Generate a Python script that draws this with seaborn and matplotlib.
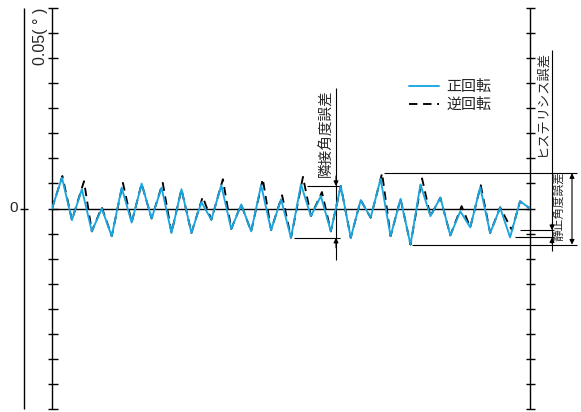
import numpy as np
import pandas as pd
import matplotlib
matplotlib.use("Agg")
import matplotlib.pyplot as plt
import seaborn as sns

# ---------------- data (degrees) ----------------
angle_fwd = [0, 7.5, 15, 22.5, 30, 37.5, 45, 52.5, 60, 67.5, 75, 82.5, 90, 97.5,
             105, 112.5, 120, 127.5, 135, 142.5, 150, 157.5, 165, 172.5, 180,
             187.5, 195, 202.5, 210, 217.5, 225, 232.5, 240, 247.5, 255, 262.5,
             270, 277.5, 285, 292.5, 300, 307.5, 315, 322.5, 330, 337.5, 345,
             352.5, 360]
err_fwd = [0.0, 0.0077, -0.0029, 0.0048, -0.0057, 0.0, -0.0069, 0.0052, -0.0035,
           0.0062, -0.0025, 0.0052, -0.0061, 0.0048, -0.0061, 0.0016, -0.0028,
           0.0058, -0.0051, 0.0010, -0.0057, 0.0058, -0.0054, 0.0023, -0.0073,
           0.0060, -0.0019, 0.0031, -0.0057, 0.0056, -0.0073, 0.0021, -0.0023,
           0.0074, -0.0069, 0.0024, -0.0090, 0.0060, -0.0019, 0.0027, -0.0067,
           -0.0007, -0.0047, 0.0053, -0.0061, 0.0002, -0.0072, 0.0018, 0.0]
angle_rev = [0, 7.8, 15, 24.1, 30, 37.5, 45, 53.4, 60, 67.5, 75, 83.4, 90, 97.5,
             105, 113.5, 120, 128.7, 135, 142.5, 150, 158.75, 165, 173.3, 180,
             189.0, 195, 203.3, 210, 217.5, 225, 232.5, 240, 248.6, 255, 262.5,
             270, 278.7, 285, 292.5, 300, 308.5, 315, 322.9, 330, 337.5, 346.4,
             352.5, 360]
err_rev = [0.0, 0.0081, -0.0029, 0.0068, -0.0057, 0.0003, -0.0069, 0.0064, -0.0035,
           0.0062, -0.0025, 0.0064, -0.0061, 0.0048, -0.0061, 0.0029, -0.0028,
           0.0073, -0.0051, 0.0010, -0.0057, 0.0074, -0.0054, 0.0033, -0.0073,
           0.0079, -0.0019, 0.0041, -0.0057, 0.0056, -0.0073, 0.0021, -0.0023,
           0.0088, -0.0069, 0.0024, -0.0090, 0.0075, -0.0019, 0.0027, -0.0067,
           0.0006, -0.0047, 0.0058, -0.0061, 0.0003, -0.0054, 0.0018, 0.0]
series_labels = ["正回転", "逆回転"]
y_label_top = "0.05( ° )"
y_label_zero = "0"
ann_adjacent = "隣接角度誤差"
ann_hyst = "ヒステリシス誤差"
ann_static = "静止角度誤差"
y_lim = 0.05
y_step = 0.00625

# ---------------- style ----------------
sns.set_style("white")
plt.rcParams['font.family'] = ['Liberation Sans', 'Noto Sans CJK JP']
BLUE = "#19a5e0"

W, H = 581, 412
fig = plt.figure(figsize=(W / 100, H / 100), dpi=100)
L, R, T, B = 52, 530, 8, 409
ax = fig.add_axes([L / W, 1 - B / H, (R - L) / W, (B - T) / H])
ax.set_xlim(0, 360)
ax.set_ylim(-y_lim, y_lim)
ax.axis('off')


def X(px):
    return (px - L) / (R - L) * 360


def Y(py):
    return y_lim - (py - T) / (B - T) * 2 * y_lim


df = pd.concat([
    pd.DataFrame({"angle": angle_fwd, "error": err_fwd, "dir": series_labels[0]}),
    pd.DataFrame({"angle": angle_rev, "error": err_rev, "dir": series_labels[1]}),
])
sns.lineplot(data=df, x="angle", y="error", hue="dir", style="dir",
             hue_order=series_labels, style_order=series_labels,
             palette=[BLUE, "black"],
             dashes={series_labels[0]: "", series_labels[1]: (4.5, 3)},
             estimator=None, sort=False, linewidth=1.35, ax=ax)
ax.lines[0].set_zorder(4)
ax.lines[1].set_zorder(3)

sns.move_legend(ax, "upper left", bbox_to_anchor=(409 / W, 1 - 80 / H),
                bbox_transform=fig.transFigure, frameon=False, title=None,
                handlelength=2.0, handletextpad=0.5, borderpad=0,
                borderaxespad=0, labelspacing=0.25, fontsize=10.8)
ax.axis('off')

k = dict(color="black", clip_on=False)
# axes
ax.vlines([0, 360], -y_lim, y_lim, lw=1.0, zorder=2, **k)
yt = np.arange(-8, 9) * y_step
ax.hlines(yt, X(48), X(58), lw=1.0, **k)
ax.hlines(yt, X(526), X(535), lw=1.0, **k)
ax.hlines(0, 0, 360, lw=1.0, zorder=2, **k)
ax.vlines(X(24), -y_lim, y_lim, lw=1.0, **k)
ax.hlines(0, X(20), X(28), lw=1.0, **k)
ax.text(X(13.5), 0, y_label_zero, ha="center", va="center", fontsize=11)
ax.text(X(40), y_lim, y_label_top, rotation=90, ha="center", va="top",
        fontsize=11.5)

thin = 0.8
ap = dict(arrowstyle="-|>", color="black", lw=thin, mutation_scale=7,
          shrinkA=0, shrinkB=0)


def arrow(x, y_tip, y_from):
    ax.annotate("", xy=(x, y_tip), xytext=(x, y_from), arrowprops=ap,
                annotation_clip=False)


# adjacent angle error
top_a, bot_a = err_fwd[29], err_fwd[24]
xa = X(336)
ax.hlines(top_a, X(307), X(340), lw=thin, **k)
ax.hlines(bot_a, X(294), X(340), lw=thin, **k)
ax.vlines(xa, Y(260), Y(88), lw=thin, **k)
arrow(xa, top_a, top_a + 0.0025)
arrow(xa, bot_a, bot_a - 0.0025)
ax.text(X(326), Y(177), ann_adjacent, rotation=90, rotation_mode="anchor",
        ha="left", va="center", fontsize=10.5)

# static angle error (overall range)
top_all, bot_all = max(err_rev), min(err_fwd)
ax.hlines(top_all, X(384), X(577), lw=thin, **k)
ax.hlines(bot_all, X(412), X(577), lw=thin, **k)
ax.annotate("", xy=(X(572), top_all), xytext=(X(572), bot_all),
            arrowprops=dict(ap, arrowstyle="<|-|>"), annotation_clip=False)
ax.text(X(559.5), Y(241), ann_static, rotation=90, rotation_mode="anchor",
        ha="left", va="center", fontsize=8.4)

# hysteresis error
hr, hf = err_rev[46], err_fwd[46]
xh = X(552)
ax.hlines(hr, X(520), X(554), lw=thin, **k)
ax.hlines(hf, X(515), X(554), lw=thin, **k)
ax.vlines(xh, Y(251), Y(50), lw=thin, **k)
arrow(xh, hr, hr + 0.0015)
arrow(xh, hf, hf - 0.0015)
ax.text(X(542.5), Y(157), ann_hyst, rotation=90, rotation_mode="anchor",
        ha="left", va="center", fontsize=9.5)

fig.savefig("out.png", dpi=100)
